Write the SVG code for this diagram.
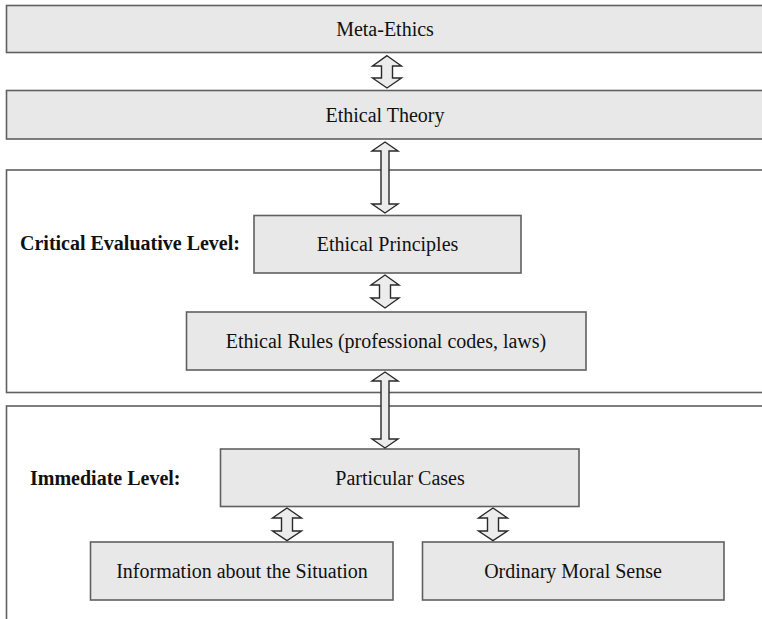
<svg xmlns="http://www.w3.org/2000/svg" width="762" height="619" viewBox="0 0 762 619">
<style>
.box{fill:#e8e8e8;stroke:#606060;stroke-width:1.6}
.frame{fill:#ffffff;stroke:#606060;stroke-width:1.6}
.t{font-family:"Liberation Serif","Times New Roman",serif;font-size:20px;fill:#111;text-anchor:middle}
.b{font-family:"Liberation Serif","Times New Roman",serif;font-size:20px;font-weight:bold;fill:#111}
.arr{fill:#ececec;stroke:#2a2a2a;stroke-width:1.4;stroke-linejoin:miter}
</style>
<rect width="762" height="619" fill="#ffffff"/>
<g id="meta-ethics">
<rect class="box" x="6.5" y="5.5" width="760" height="47"/>
<text class="t" x="385" y="36">Meta-Ethics</text>
</g>
<g id="ethical-theory">
<rect class="box" x="6.5" y="90.5" width="760" height="48.5"/>
<text class="t" x="385" y="122">Ethical Theory</text>
</g>
<g id="critical-level">
<rect class="frame" x="6.5" y="170" width="760" height="222.5"/>
<text class="b" x="20" y="250">Critical Evaluative Level:</text>
</g>
<g id="ethical-principles">
<rect class="box" x="254" y="215.5" width="267" height="57.5"/>
<text class="t" x="387.5" y="251">Ethical Principles</text>
</g>
<g id="ethical-rules">
<rect class="box" x="186.5" y="312" width="399.5" height="58"/>
<text class="t" x="386" y="348">Ethical Rules (professional codes, laws)</text>
</g>
<g id="immediate-level">
<rect class="frame" x="6.5" y="406" width="760" height="230"/>
<text class="b" x="30" y="485">Immediate Level:</text>
</g>
<g id="particular-cases">
<rect class="box" x="220.5" y="449" width="358.5" height="57.5"/>
<text class="t" x="400" y="485">Particular Cases</text>
</g>
<g id="information">
<rect class="box" x="90.5" y="542" width="302.5" height="58"/>
<text class="t" x="242" y="578">Information about the Situation</text>
</g>
<g id="moral-sense">
<rect class="box" x="422.5" y="542" width="301.5" height="58"/>
<text class="t" x="573" y="578">Ordinary Moral Sense</text>
</g>
<g id="connectors">
<path class="arr" d="M387,55.7 L401.5,66 L392.5,66 L392.5,78 L401.5,78 L387,88 L372.5,78 L381.5,78 L381.5,66 L372.5,66 Z"/>
<path class="arr" d="M385,142 L398,151 L389,151 L389,204 L398,204 L385,213 L372,204 L381,204 L381,151 L372,151 Z"/>
<path class="arr" d="M385,275 L399,285 L390.5,285 L390.5,298 L399,298 L385,308 L371,298 L379.5,298 L379.5,285 L371,285 Z"/>
<path class="arr" d="M385,372 L398,381 L389,381 L389,439 L398,439 L385,448 L372,439 L381,439 L381,381 L372,381 Z"/>
<path class="arr" d="M287,508 L301.5,518 L292.5,518 L292.5,531 L301.5,531 L287,540.7 L272.5,531 L281.5,531 L281.5,518 L272.5,518 Z"/>
<path class="arr" d="M493,508 L507.5,518 L498.5,518 L498.5,531 L507.5,531 L493,540.7 L478.5,531 L487.5,531 L487.5,518 L478.5,518 Z"/>
</g>
</svg>
